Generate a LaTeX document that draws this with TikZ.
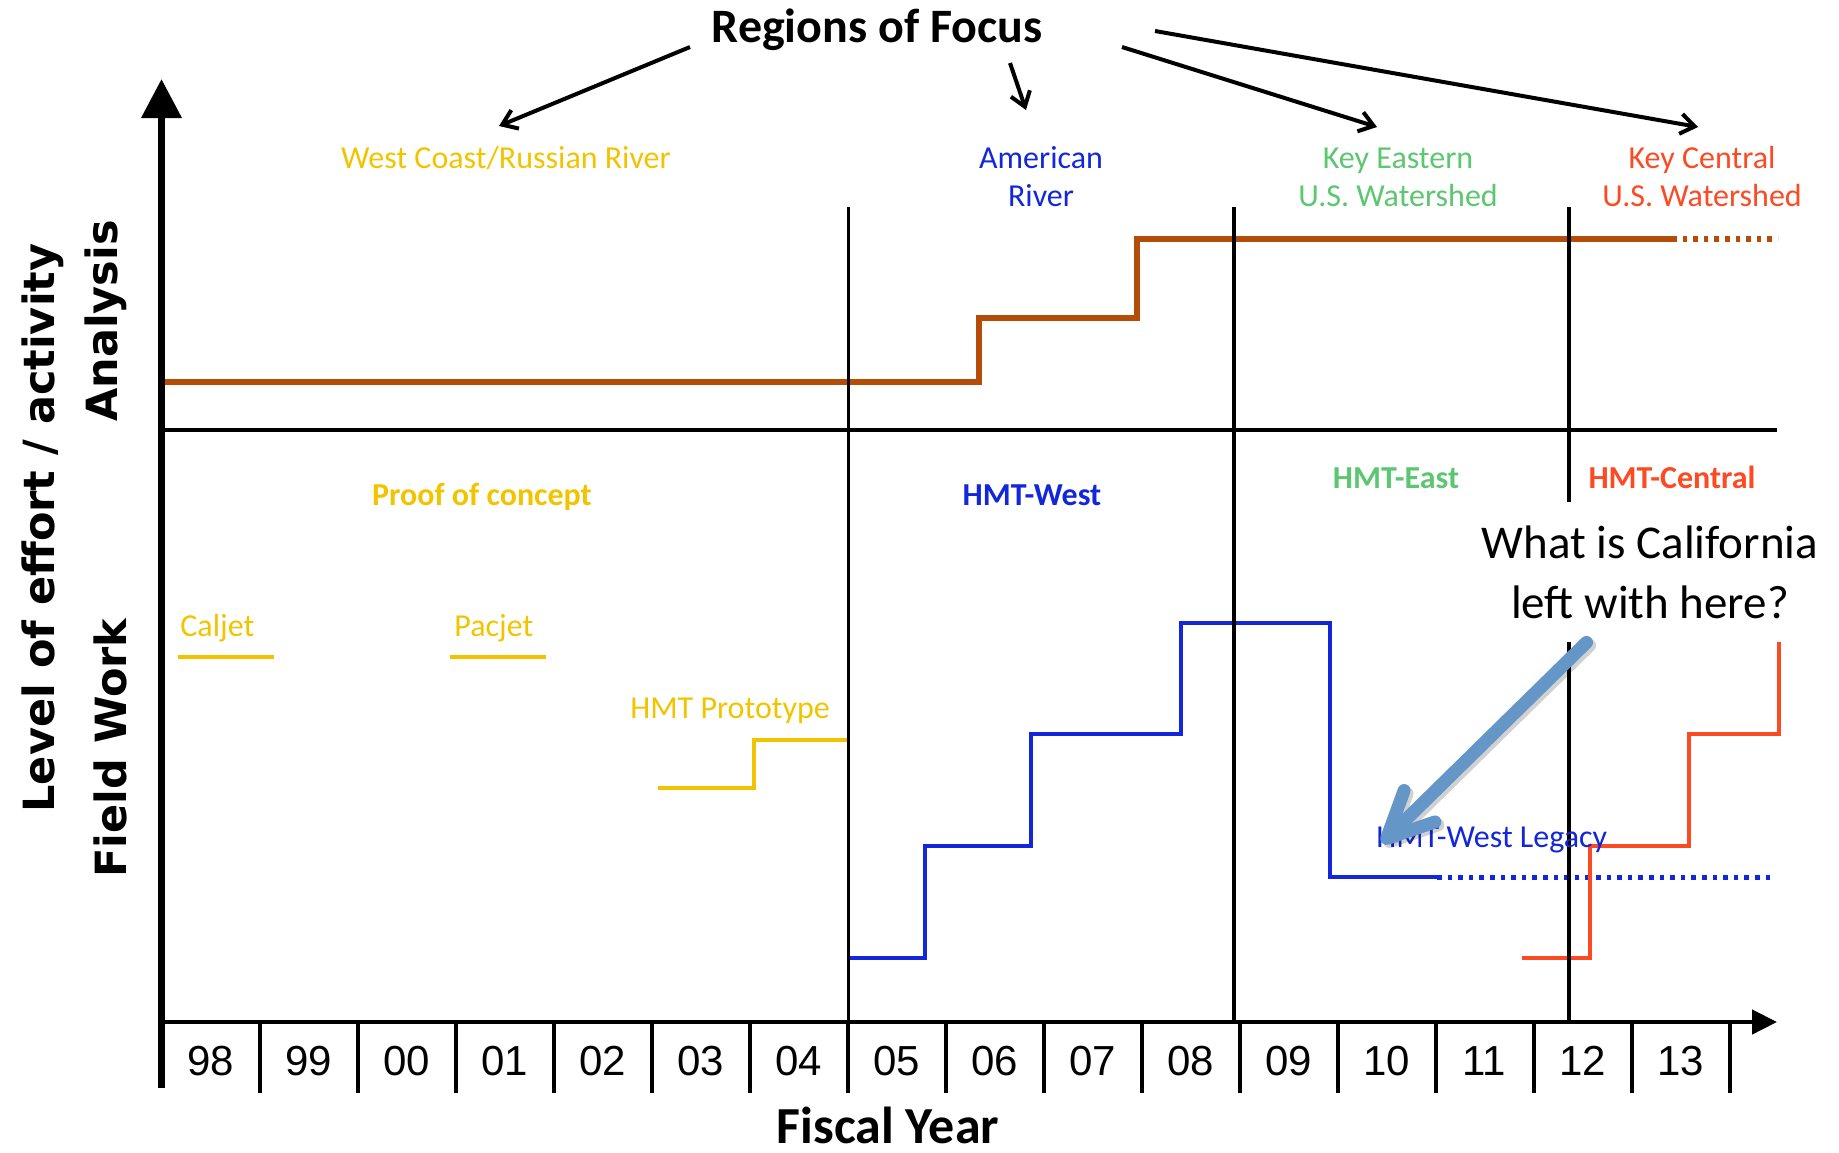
\documentclass[tikz,border=0pt]{standalone}
\usepackage{fontspec}
\setmainfont{Carlito}
\newfontfamily\yearfont{Liberation Sans}
\newfontfamily\axisfont{DejaVu Sans}
\usepackage{xcolor}
\usepackage{tikz}
\usetikzlibrary{arrows.meta, calc, positioning}
\tikzset{
    textnode/.style = {draw=none, fill=none, rectangle, inner sep=0em, align=center,
      font=\fontsize{16}{19}\selectfont},
    boldnode/.style = {textnode, font=\fontsize{16}{19}\selectfont\bfseries},
    titlenode/.style = {textnode, font=\fontsize{24}{29}\selectfont\bfseries},
    yearnode/.style = {textnode, font=\yearfont\fontsize{21}{25}\selectfont},
    axisnode/.style = {textnode, rotate=90, font=\axisfont\bfseries\fontsize{21.5}{26}\selectfont},
    calloutnode/.style = {draw=none, fill=white, rectangle, inner sep=0em, align=center,
      minimum width=176pt, minimum height=70pt, font=\fontsize{23.5}{30}\selectfont},
    stepline/.style = {line width=2.4pt, line join=miter},
    dotline/.style = {line width=2.5pt, dash pattern=on 2.3pt off 3pt},
    divider/.style = {black, line width=1.8pt},
    tickline/.style = {black, line width=2pt},
    connect/.style = {black, line width=2pt, -{Straight Barb[length=7pt, width=10pt]}},
    callarrow/.style = {line width=6.5pt, line cap=round,
      -{Straight Barb[length=23pt, width=22pt, round]}}
}
\definecolor{anabrown}{RGB}{180, 76, 10}
\definecolor{pocgold}{RGB}{242, 196, 0}
\definecolor{westblue}{RGB}{18, 38, 218}
\definecolor{eastgreen}{RGB}{92, 198, 112}
\definecolor{centred}{RGB}{252, 74, 34}
\definecolor{callblue}{RGB}{100, 150, 200}

\begin{document}
\begin{tikzpicture}[x=0.5pt, y=-0.5pt]
    \useasboundingbox (0,0) rectangle (1839,1152);

    % field work and analysis curves
    \draw [stepline, anabrown, line width=2.7pt] (162,382) -- (979,382) -- (979,318) -- (1137,318)
      -- (1137,239) -- (1672,239);
    \draw [dotline, anabrown, line width=2.7pt] (1672,239) -- (1778,239);
    \draw [stepline, pocgold, line width=2pt] (178,657) -- (274,657);
    \draw [stepline, pocgold, line width=2pt] (450,657) -- (546,657);
    \draw [stepline, pocgold, line width=2pt] (658,788) -- (754,788) -- (754,740) -- (849,740);
    \draw [stepline, westblue] (849,958) -- (925,958) -- (925,846) -- (1031,846) -- (1031,734)
      -- (1181,734) -- (1181,623) -- (1330,623) -- (1330,877) -- (1437,877);
    \draw [dotline, westblue] (1437,877) -- (1774,877);
    \draw [stepline, centred, line width=2.3pt] (1522,958) -- (1590,958) -- (1590,846) -- (1689,846)
      -- (1689,734) -- (1779,734) -- (1779,639);

    % axes
    \coordinate (origin) at (161.5,1022);
    \coordinate (ytop) at (161.5,79);
    \coordinate (xend) at (1777,1022);
    \draw [black, line width=3.5pt, -{Triangle[length=19.5pt, width=19.5pt]}] (161.5,1088) -- (ytop);
    \draw [black, line width=2.25pt, -{Triangle[length=12.5pt, width=12pt]}] (origin) -- (xend);
    \foreach \k in {1,...,16}
        \draw [tickline] ({161.5+98*\k},1022) -- ++(0,71);
    \draw [black, line width=1.9pt] (161.5,430) -- (1777,430);
    \foreach \xd in {848.5, 1234, 1569}
        \draw [divider] (\xd,207) -- (\xd,1022);

    % year labels
    \foreach \yr [count=\i from 0] in {98,99,00,01,02,03,04,05,06,07,08,09,10,11,12,13}
        \node [yearnode, name=yr\i] at ({210.5+98*\i},1061) {\yr};
    \node [titlenode, name=fiscal, font=\fontsize{26}{31}\selectfont\bfseries] at (888,1125) {Fiscal Year};

    \node [axisnode, name=effort] at (43,528) {Level of effort / activity};
    \node [axisnode, name=analysis] at (106,321) {Analysis};
    \node [axisnode, name=fieldwork] at (110,748) {Field Work};

    % regions of focus
    \node [titlenode, name=title, anchor=base] at (877,42) {Regions of Focus};
    \node [textnode, name=westcoast, anchor=base, pocgold] at (506,168) {West Coast/Russian River};
    \node [textnode, name=american, westblue] at (1041,177) {American\\River};
    \node [textnode, name=eastern, eastgreen] at (1398,177) {Key Eastern\\U.S. Watershed};
    \node [textnode, name=central, centred] at (1702,177) {Key Central\\U.S. Watershed};

    \coordinate (wcfrom) at (690,47);
    \coordinate (wcto) at (499,126);
    \coordinate (amfrom) at (1010,63);
    \coordinate (amto) at (1026,110);
    \coordinate (eafrom) at (1122,47);
    \coordinate (eato) at (1377,127);
    \coordinate (cefrom) at (1155,31);
    \coordinate (ceto) at (1698,127);
    \draw [connect] (wcfrom) -- (wcto);
    \draw [connect] (amfrom) -- (amto);
    \draw [connect] (eafrom) -- (eato);
    \draw [connect] (cefrom) -- (ceto);

    % programs
    \node [boldnode, name=proof, anchor=base, pocgold] at (482,505) {Proof of concept};
    \node [boldnode, name=hmtwest, anchor=base, westblue] at (1032,505) {HMT-West};
    \node [boldnode, name=hmteast, anchor=base, eastgreen] at (1396,488) {HMT-East};
    \node [boldnode, name=hmtcentral, anchor=base, centred] at (1672,488) {HMT-Central};
    \node [textnode, name=caljet, anchor=base west, pocgold] at (180,636) {Caljet};
    \node [textnode, name=pacjet, anchor=base west, pocgold] at (454,636) {Pacjet};
    \node [textnode, name=proto, anchor=base west, pocgold] at (630,718) {HMT Prototype};
    \node [textnode, name=legacy, anchor=base west, westblue] at (1376,847) {HMT-West Legacy};

    % question
    \node [calloutnode, name=callout] at (1650,572) {What is California\\left with here?};
    \coordinate (calltail) at ($(callout.south west)!0.32!(callout.south east)$);
    \coordinate (calltip) at (1382,843);
    \draw [callarrow, black, opacity=0.18, transform canvas={shift={(1.5pt,-1.5pt)}}] (calltail) -- (calltip);
    \draw [callarrow, callblue] (calltail) -- (calltip);
\end{tikzpicture}
\end{document}
